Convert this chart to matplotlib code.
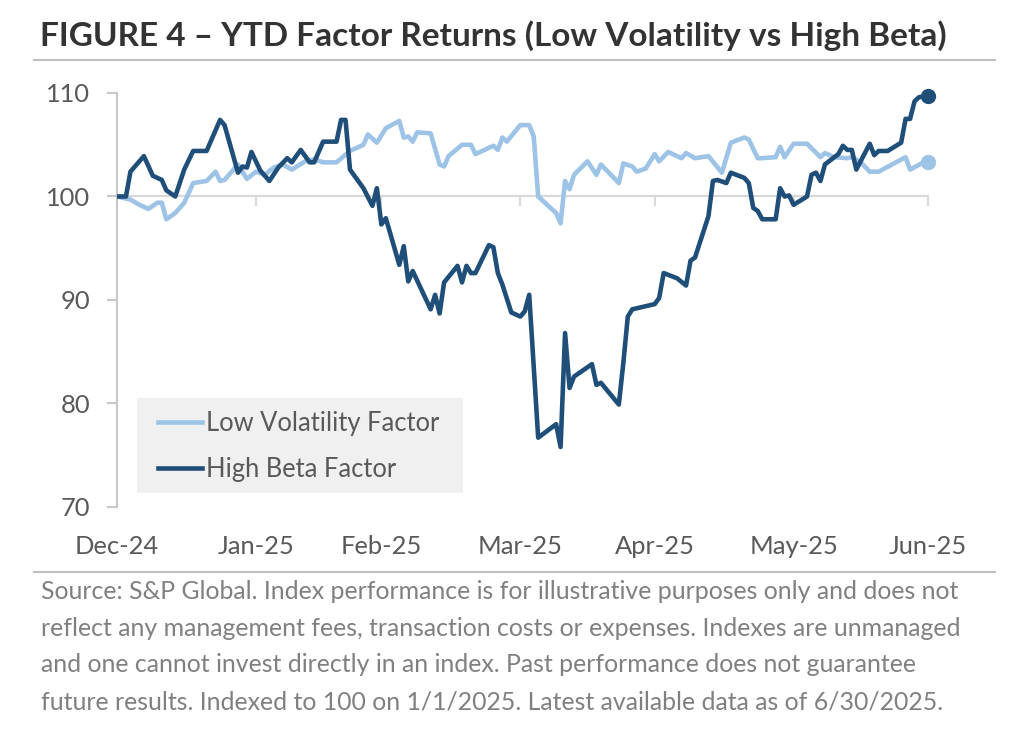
import numpy as np
import matplotlib
matplotlib.use('Agg')
import matplotlib.pyplot as plt
from matplotlib.patches import Rectangle
from matplotlib.lines import Line2D
from matplotlib import transforms

plt.rcParams['font.family'] = ['Lato', 'DejaVu Sans']

# ---------------- data ----------------
base_date = np.datetime64('2024-12-31')

hb_days = [0, 2, 3, 6, 8, 10, 11, 13, 15, 17, 20, 23, 24, 27, 28, 29, 30, 32, 34, 36,
           38, 39, 41, 43, 44, 46, 49, 50, 51, 52, 55, 57, 58, 59, 60, 63, 64, 65, 66, 70,
           71, 72, 73, 76, 77, 78, 79, 80, 83, 84, 85, 86, 88, 90, 91, 92, 94, 98, 99, 100,
           101, 102, 106, 107, 108, 112, 113, 114, 115, 120, 121, 122, 125, 127, 128, 129, 132, 133, 134, 136,
           137, 140, 141, 142, 143, 144, 147, 148, 149, 150, 151, 154, 155, 156, 157, 158, 161, 162, 163, 164,
           165, 168, 169, 170, 172, 175, 176, 177, 178, 179, 181]
hb_vals = [100.0, 100.0, 102.4, 103.9, 102.0, 101.6, 100.6, 100.0, 102.6, 104.4,
           104.4, 107.4, 106.9, 102.3, 102.9, 102.8, 104.3, 102.5, 101.5, 102.8,
           103.7, 103.3, 104.5, 103.3, 103.3, 105.3, 105.3, 107.4, 107.4, 102.6,
           100.8, 99.1, 100.8, 97.3, 97.9, 93.4, 95.2, 91.8, 92.8, 89.1,
           90.5, 88.7, 91.7, 93.3, 91.7, 93.3, 92.6, 92.6, 95.3, 95.1,
           92.6, 91.5, 88.8, 88.4, 88.9, 90.5, 76.7, 78.0, 75.8, 86.8,
           81.5, 82.6, 83.8, 81.8, 82.0, 79.9, 83.9, 88.4, 89.1, 89.6,
           90.2, 92.6, 92.1, 91.4, 93.8, 94.1, 98.1, 101.5, 101.6, 101.3,
           102.3, 101.8, 101.3, 98.9, 98.6, 97.8, 97.8, 100.8, 100.0, 100.1,
           99.2, 100.0, 102.1, 102.3, 101.5, 103.1, 104.1, 104.9, 104.5, 104.5,
           102.6, 105.1, 104.0, 104.4, 104.4, 105.2, 107.5, 107.5, 109.2, 109.6,
           109.7]

lv_days = [0, 3, 5, 7, 9, 10, 11, 13, 15, 17, 20, 22, 23, 24, 27, 29, 31, 33, 35, 37,
           39, 42, 44, 46, 49, 52, 55, 56, 58, 60, 63, 64, 65, 66, 67, 70, 72, 73, 74, 77,
           79, 80, 84, 85, 86, 87, 90, 92, 93, 94, 98, 99, 100, 101, 102, 105, 107, 108, 112, 113,
           115, 116, 118, 120, 121, 123, 126, 127, 129, 132, 135, 137, 140, 141, 143, 144, 147, 148, 149, 151,
           154, 157, 158, 160, 163, 164, 166, 168, 170, 176, 177, 180, 181]
lv_vals = [100.0, 99.7, 99.2, 98.8, 99.4, 99.4, 97.8, 98.4, 99.4, 101.3,
           101.5, 102.4, 101.5, 101.6, 103.1, 101.7, 102.4, 102.1, 102.8, 103.1,
           102.6, 103.4, 103.6, 103.3, 103.3, 104.4, 105.0, 106.0, 105.2, 106.6,
           107.3, 105.7, 105.8, 105.3, 106.2, 106.1, 103.1, 102.9, 103.9, 105.0,
           105.0, 104.1, 104.9, 104.5, 105.7, 105.3, 106.9, 106.9, 105.8, 100.0,
           98.4, 97.4, 101.5, 100.7, 102.1, 103.4, 102.1, 103.1, 101.3, 103.2,
           102.9, 102.4, 102.7, 104.1, 103.4, 104.3, 103.7, 104.2, 103.7, 103.9,
           102.3, 105.2, 105.7, 105.5, 103.7, 103.7, 103.8, 104.8, 103.8, 105.1,
           105.1, 103.8, 104.2, 103.8, 103.7, 103.8, 103.3, 102.4, 102.4, 103.8,
           102.6, 103.3, 103.3]

tick_dates = ['2024-12-31', '2025-01-31', '2025-02-28', '2025-03-31',
              '2025-04-30', '2025-05-31', '2025-06-30']
tick_labels = ['Dec-24', 'Jan-25', 'Feb-25', 'Mar-25', 'Apr-25', 'May-25', 'Jun-25']
y_ticks = [70, 80, 90, 100, 110]
series_names = ['Low Volatility Factor', 'High Beta Factor']
title_text = 'FIGURE 4 \u2013 YTD Factor Returns (Low Volatility vs High Beta)'
source_lines = [
    'Source: S&P Global. Index performance is for illustrative purposes only and does not',
    'reflect any management fees, transaction costs or expenses. Indexes are unmanaged',
    'and one cannot invest directly in an index. Past performance does not guarantee',
    'future results. Indexed to 100 on 1/1/2025. Latest available data as of 6/30/2025.',
]

# ---------------- styling ----------------
C_LIGHT = '#9dc3e6'
C_DARK = '#1f4e79'
C_AXIS = '#d9d9d9'
C_TICKTXT = '#595959'
C_SRC = '#808080'
C_TITLE = '#333333'

W, H = 1024, 743
fig = plt.figure(figsize=(W / 100, H / 100), dpi=100)
fig.patch.set_facecolor('white')

def fx(px):
    return px / W

def fy(py):
    return 1 - py / H

ax_left, ax_right = 117, 928
ax_top, ax_bot = 93, 507
ax = fig.add_axes([fx(ax_left), fy(ax_bot), fx(ax_right) - fx(ax_left), fy(ax_top) - fy(ax_bot)])
ax.set_facecolor('none')

lv_dates = base_date + np.array(lv_days, dtype='timedelta64[D]')
hb_dates = base_date + np.array(hb_days, dtype='timedelta64[D]')
tdates = np.array(tick_dates, dtype='datetime64[D]')

ax.plot(lv_dates, lv_vals, color=C_LIGHT, lw=3.3, solid_joinstyle='round', zorder=3,
        label=series_names[0])
ax.plot(hb_dates, hb_vals, color=C_DARK, lw=3.3, solid_joinstyle='round', zorder=4,
        label=series_names[1])
ax.plot(lv_dates[-1:], lv_vals[-1:], 'o', color=C_LIGHT, ms=10, zorder=5, clip_on=False)
ax.plot(hb_dates[-1:], hb_vals[-1:], 'o', color=C_DARK, ms=10, zorder=6, clip_on=False)

ax.set_xlim(tdates[0], tdates[-1])
ax.set_ylim(y_ticks[0], y_ticks[-1])

for s in ['top', 'right']:
    ax.spines[s].set_visible(False)
ax.spines['left'].set_color('#c8c8c8')
ax.spines['left'].set_linewidth(1.5)
ax.spines['bottom'].set_position(('data', 100))
ax.spines['bottom'].set_color(C_AXIS)
ax.spines['bottom'].set_linewidth(1.6)
ax.spines['bottom'].set_zorder(1)

ax.set_yticks(y_ticks)
ax.set_xticks(tdates)
ax.tick_params(axis='x', direction='out', length=7.2, width=1.5, color=C_AXIS,
               labelbottom=False)
ax.tick_params(axis='y', direction='out', length=7.2, width=1.5, color='#c8c8c8',
               pad=12.2, labelcolor=C_TICKTXT)

# measure helper
fig.canvas.draw()
renderer = fig.canvas.get_renderer()

def fit_size(text, target_px, weight='normal', base=20):
    t = fig.text(0, 0, text, fontsize=base, fontweight=weight)
    w = t.get_window_extent(renderer).width
    t.remove()
    return base * target_px / w

tick_fs = fit_size('Dec-24', 84)
for lab in ax.get_yticklabels():
    lab.set_fontsize(tick_fs)

# x tick labels (placed low, below plot area)
xlab_trans = transforms.blended_transform_factory(ax.transData, fig.transFigure)
for d, lab in zip(tdates, tick_labels):
    ax.text(d, fy(546), lab, transform=xlab_trans, ha='center', va='center',
            fontsize=tick_fs, color=C_TICKTXT)

# legend background box
fig.patches.append(Rectangle((fx(137), fy(493)), fx(463) - fx(137), fy(398) - fy(493),
                             transform=fig.transFigure, facecolor='#f0f0f0',
                             edgecolor='none', zorder=0))
leg_fs = fit_size(series_names[0], 233)
fs_px = leg_fs * 100 / 72
handles = [Line2D([], [], color=C_LIGHT, lw=3.3), Line2D([], [], color=C_DARK, lw=3.3)]
leg = fig.legend(handles, series_names, loc='upper left',
                 bbox_to_anchor=(fx(158), fy(411)),
                 frameon=False, fontsize=leg_fs, handlelength=44 / fs_px,
                 handletextpad=4 / fs_px, borderpad=0, borderaxespad=0,
                 labelspacing=(52 - fs_px * 1.2) / fs_px, labelcolor=C_TICKTXT)

# title
title_fs = fit_size(title_text, 905, weight='bold')
fig.text(fx(40), fy(46), title_text, fontsize=title_fs, fontweight='bold',
         color=C_TITLE, ha='left', va='baseline')

# separator lines
fig.add_artist(Line2D([fx(34), fx(995)], [fy(60), fy(60)], color='#bfbfbf', lw=1.5,
                      transform=fig.transFigure))
fig.add_artist(Line2D([fx(34), fx(995)], [fy(572), fy(572)], color='#bfbfbf', lw=1.5,
                      transform=fig.transFigure))

# source text
src_fs = fit_size(source_lines[0], 922)
for i, line in enumerate(source_lines):
    fig.text(fx(41), fy(599 + i * 36.7), line, fontsize=src_fs, color=C_SRC,
             ha='left', va='baseline')

fig.savefig('out.png', dpi=100, facecolor='white')
